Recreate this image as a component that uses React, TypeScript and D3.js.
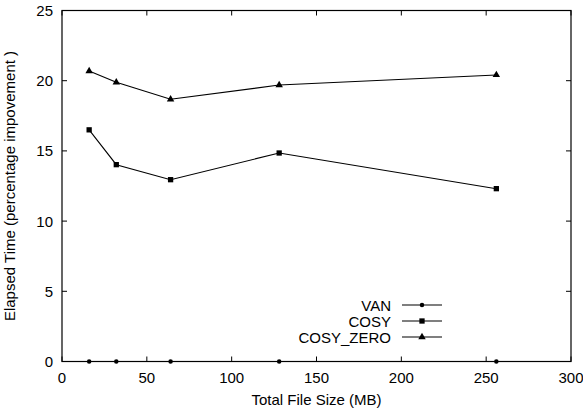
import * as d3 from "d3";
import { useEffect, useRef } from "react";

const sizes = [16, 32, 64, 128, 256];
const van = [0, 0, 0, 0, 0];
const cosy = [16.5, 14.02, 12.95, 14.85, 12.31];
const cosyZero = [20.69, 19.89, 18.68, 19.69, 20.41];
const seriesNames = ["VAN", "COSY", "COSY_ZERO"];
const xTicks = [0, 50, 100, 150, 200, 250, 300];
const yTicks = [0, 5, 10, 15, 20, 25];

const W = 583;
const H = 410;
const FONT = "'Liberation Sans', Arial, Helvetica, sans-serif";

export default function App() {
  const ref = useRef<SVGSVGElement>(null);

  useEffect(() => {
    const svg = d3.select(ref.current);
    svg.selectAll("*").remove();

    const x = d3.scaleLinear().domain([0, 300]).range([62, 571]);
    const y = d3.scaleLinear().domain([0, 25]).range([361.5, 10.5]);

    const g = svg.append("g").attr("font-family", FONT).attr("fill", "#000");

    // frame
    g.append("rect")
      .attr("x", x(0))
      .attr("y", y(25))
      .attr("width", x(300) - x(0))
      .attr("height", y(0) - y(25))
      .attr("fill", "none")
      .attr("stroke", "#000")
      .attr("stroke-width", 1.2);

    const tk = 5;
    xTicks.forEach((t) => {
      g.append("line").attr("x1", x(t)).attr("x2", x(t)).attr("y1", y(0)).attr("y2", y(0) - tk).attr("stroke", "#000");
      g.append("line").attr("x1", x(t)).attr("x2", x(t)).attr("y1", y(25)).attr("y2", y(25) + tk).attr("stroke", "#000");
      g.append("text")
        .attr("x", x(t))
        .attr("y", y(0) + 21.5)
        .attr("text-anchor", "middle")
        .attr("font-size", 15)
        .text(t);
    });
    yTicks.forEach((t) => {
      g.append("line").attr("x1", x(0)).attr("x2", x(0) + tk).attr("y1", y(t)).attr("y2", y(t)).attr("stroke", "#000");
      g.append("line").attr("x1", x(300)).attr("x2", x(300) - tk).attr("y1", y(t)).attr("y2", y(t)).attr("stroke", "#000");
      g.append("text")
        .attr("x", x(0) - 9)
        .attr("y", y(t) + 5.5)
        .attr("text-anchor", "end")
        .attr("font-size", 15)
        .text(t);
    });

    g.append("text")
      .attr("x", (x(0) + x(300)) / 2)
      .attr("y", 405)
      .attr("text-anchor", "middle")
      .attr("font-size", 15)
      .text("Total File Size (MB)");

    g.append("text")
      .attr("transform", `translate(15,${(y(0) + y(25)) / 2}) rotate(-90)`)
      .attr("text-anchor", "middle")
      .attr("font-size", 15)
      .text("Elapsed Time (percentage impovement )");

    const allSeries = [van, cosy, cosyZero];
    const symbols = [d3.symbolCircle, d3.symbolSquare, d3.symbolTriangle];
    const symSizes = [16, 28, 24];

    const line = d3
      .line<number>()
      .x((_, i) => x(sizes[i]))
      .y((d) => y(d));

    allSeries.forEach((vals, si) => {
      g.append("path")
        .attr("d", line(vals))
        .attr("fill", "none")
        .attr("stroke", "#000")
        .attr("stroke-width", 1.1);
      const sym = d3.symbol().type(symbols[si]).size(symSizes[si]);
      vals.forEach((v, i) => {
        g.append("path")
          .attr("d", sym())
          .attr("transform", `translate(${x(sizes[i])},${y(v)})`)
          .attr("fill", "#000");
      });
    });

    // legend
    const legY = [305, 321, 337];
    seriesNames.forEach((name, si) => {
      g.append("text")
        .attr("x", 391)
        .attr("y", legY[si] + 5.5)
        .attr("text-anchor", "end")
        .attr("font-size", 15)
        .text(name);
      g.append("line")
        .attr("x1", 402)
        .attr("x2", 442)
        .attr("y1", legY[si])
        .attr("y2", legY[si])
        .attr("stroke", "#000")
        .attr("stroke-width", 1.1);
      const sym = d3.symbol().type(symbols[si]).size(symSizes[si]);
      g.append("path")
        .attr("d", sym())
        .attr("transform", `translate(422,${legY[si]})`)
        .attr("fill", "#000");
    });
  }, []);

  return (
    <svg
      ref={ref}
      width={W}
      height={H}
      style={{ position: "absolute", left: 0, top: 0, background: "#fff" }}
    ></svg>
  );
}
